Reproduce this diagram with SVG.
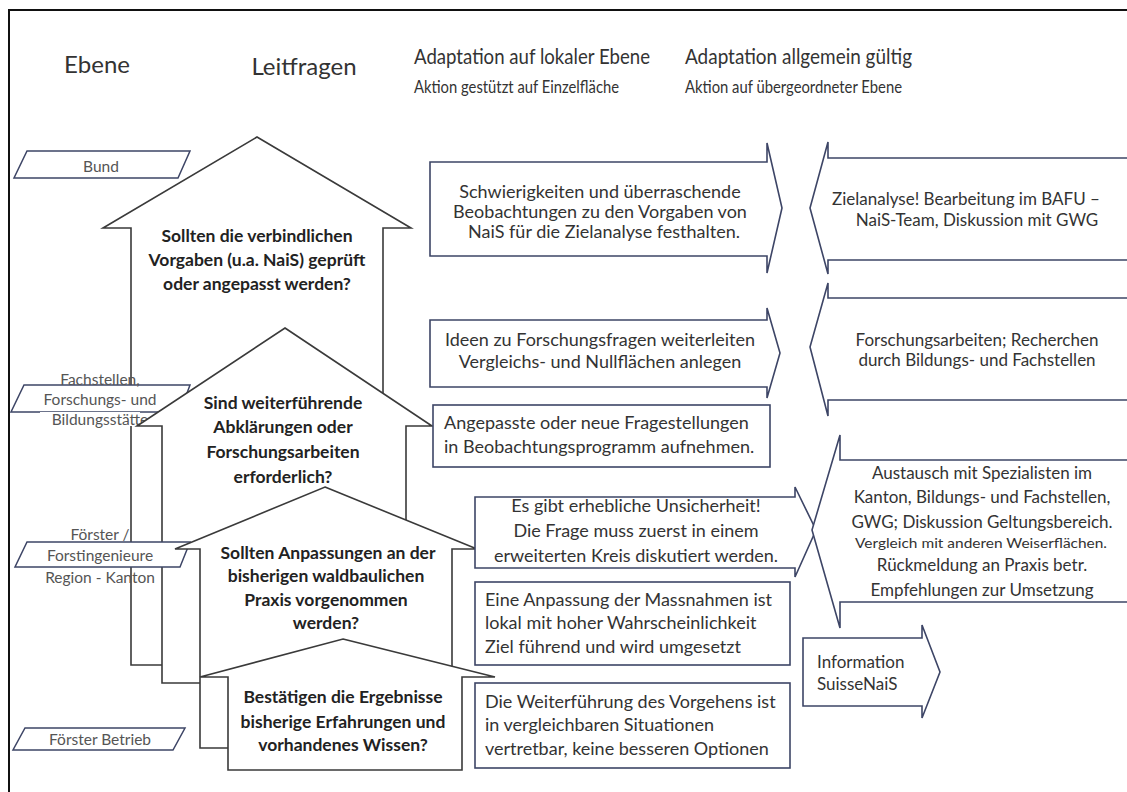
<svg xmlns="http://www.w3.org/2000/svg" width="1127" height="792" viewBox="0 0 1127 792">
<style>
.hdr{font-family:Lato,"Liberation Sans",sans-serif;fill:#333;}
.house{fill:#fff;stroke:#3a3a3a;stroke-width:1.6;stroke-linejoin:miter;}
.box{fill:#fff;stroke:#3d4566;stroke-width:1.6;}
.lbl{fill:#fff;stroke:#3d4566;stroke-width:1.5;}
.ht{font-family:Lato,"Liberation Sans",sans-serif;font-weight:bold;font-size:17.5px;fill:#222;text-anchor:middle;}
.bt{font-family:Lato,"Liberation Sans",sans-serif;font-size:18px;fill:#333;}
.rt{font-family:Lato,"Liberation Sans",sans-serif;font-size:17px;fill:#333;text-anchor:middle;}
.rs{font-family:Lato,"Liberation Sans",sans-serif;font-size:17px;fill:#333;}
.sm{font-family:Lato,"Liberation Sans",sans-serif;font-size:12.5px;fill:#333;text-anchor:middle;}
.lt{font-family:Lato,"Liberation Sans",sans-serif;font-size:15.5px;fill:#555;text-anchor:middle;}
.c{text-anchor:middle;}
</style>
<rect x="0" y="0" width="1127" height="792" fill="#fff"/>
<rect x="9" y="10" width="1130" height="790" fill="none" stroke="#111" stroke-width="2"/>

<g id="headers">
<text class="hdr" x="97" y="73" font-size="24" text-anchor="middle">Ebene</text>
<text class="hdr" x="304" y="75" font-size="24" text-anchor="middle">Leitfragen</text>
<text class="hdr" x="414" y="64" font-size="21" textLength="236" lengthAdjust="spacingAndGlyphs">Adaptation auf lokaler Ebene</text>
<text class="hdr" x="414" y="93" font-size="17" textLength="205" lengthAdjust="spacingAndGlyphs">Aktion gestützt auf Einzelfläche</text>
<text class="hdr" x="685" y="64" font-size="21" textLength="227" lengthAdjust="spacingAndGlyphs">Adaptation allgemein gültig</text>
<text class="hdr" x="685" y="93" font-size="17" textLength="217" lengthAdjust="spacingAndGlyphs">Aktion auf übergeordneter Ebene</text>
</g>

<g id="house1">
<polygon class="house" points="257,137 411,228 383,228 383,665 131,665 131,228 103,228"/>
<text class="ht" x="257" y="242">Sollten die verbindlichen</text>
<text class="ht" x="257" y="266">Vorgaben (u.a. NaiS) geprüft</text>
<text class="ht" x="257" y="290">oder angepasst werden?</text>
</g>

<g id="label-bund">
<polygon class="lbl" points="27,151 190,151 178,178 14,178"/>
<text class="lt" x="101" y="172">Bund</text>
</g>

<g id="label-fachstellen">
<polygon class="lbl" points="24,385 190,385 180,412 11,412"/>
<rect x="40" y="412" width="100" height="14" fill="#fff"/>
<text class="lt" x="100" y="385">Fachstellen,</text>
<text class="lt" x="100" y="405">Forschungs- und</text>
<text class="lt" x="100" y="425">Bildungsstätte</text>
</g>

<g id="house2">
<polygon class="house" points="285,328 432,426 406,426 406,683 162,683 162,426 137,426"/>
<text class="ht" x="283" y="409">Sind weiterführende</text>
<text class="ht" x="283" y="433">Abklärungen oder</text>
<text class="ht" x="283" y="458">Forschungsarbeiten</text>
<text class="ht" x="283" y="483">erforderlich?</text>
</g>

<g id="label-foerster-region">
<polygon class="lbl" points="27,542 190,542 180,567 15,567"/>
<text class="lt" x="100" y="540">Förster /</text>
<text class="lt" x="100" y="561">Forstingenieure</text>
<text class="lt" x="100" y="583">Region - Kanton</text>
</g>

<g id="house3">
<polygon class="house" points="325,487 477,549 452,549 452,748 200,748 200,549 175,549"/>
<text class="ht" x="328" y="559">Sollten Anpassungen  an der</text>
<text class="ht" x="326" y="582">bisherigen waldbaulichen</text>
<text class="ht" x="326" y="606">Praxis vorgenommen</text>
<text class="ht" x="326" y="629">werden?</text>
</g>

<g id="house4">
<polygon class="house" points="343,639 495,677 462,677 462,770 228,770 228,677 200,677"/>
<text class="ht" x="343" y="703">Bestätigen die Ergebnisse</text>
<text class="ht" x="343" y="728">bisherige Erfahrungen und</text>
<text class="ht" x="343" y="751">vorhandenes Wissen?</text>
</g>

<g id="label-foerster-betrieb">
<polygon class="lbl" points="25,728 185,728 173,750 13,750"/>
<text class="lt" x="100" y="745">Förster Betrieb</text>
</g>

<g id="boxA">
<polygon class="box" points="430,162 767,162 767,143 782,208 767,273 767,256 430,256"/>
<text class="bt c" x="600" y="198">Schwierigkeiten  und überraschende</text>
<text class="bt c" x="600" y="218">Beobachtungen zu den Vorgaben von</text>
<text class="bt c" x="604" y="238">NaiS für die Zielanalyse  festhalten.</text>
</g>

<g id="boxB">
<polygon class="box" points="430,320 767,320 767,308 780,353 767,398 767,387 430,387"/>
<text class="bt c" x="600" y="346">Ideen zu Forschungsfragen  weiterleiten</text>
<text class="bt c" x="600" y="368">Vergleichs- und Nullflächen anlegen</text>
</g>

<g id="boxC">
<rect class="box" x="433" y="405" width="337" height="62"/>
<text class="bt" x="444" y="429">Angepasste oder neue Fragestellungen</text>
<text class="bt" x="444" y="453">in Beobachtungsprogramm aufnehmen.</text>
</g>

<g id="boxD">
<polygon class="box" points="475,497 795,497 795,487 816,530 795,577 795,568 475,568"/>
<text class="bt c" x="636" y="512">Es gibt erhebliche Unsicherheit!</text>
<text class="bt c" x="636" y="537">Die Frage muss zuerst in einem</text>
<text class="bt c" x="636" y="562">erweiterten  Kreis diskutiert werden.</text>
</g>

<g id="boxE">
<rect class="box" x="475" y="582" width="315" height="83"/>
<text class="bt" x="485" y="606">Eine Anpassung der Massnahmen ist</text>
<text class="bt" x="485" y="629">lokal mit hoher Wahrscheinlichkeit</text>
<text class="bt" x="485" y="653">Ziel führend und wird umgesetzt</text>
</g>

<g id="boxF">
<rect class="box" x="475" y="683" width="315" height="85"/>
<text class="bt" x="485" y="708">Die Weiterführung  des Vorgehens ist</text>
<text class="bt" x="485" y="731">in vergleichbaren  Situationen</text>
<text class="bt" x="485" y="755">vertretbar, keine besseren  Optionen</text>
</g>

<g id="boxInfo">
<polygon class="box" points="803,638 922,638 922,625 940,672 922,718 922,706 803,706"/>
<text class="rs" x="817" y="668">Information</text>
<text class="rs" x="817" y="690">SuisseNaiS</text>
</g>

<g id="boxG">
<polygon class="box" points="1140,158 828,158 828,142 810,208 828,274 828,260 1140,260"/>
<text class="rt" x="966" y="205">Zielanalyse!  Bearbeitung  im BAFU –</text>
<text class="rt" x="977" y="226">NaiS-Team, Diskussion mit GWG</text>
</g>

<g id="boxH">
<polygon class="box" points="1140,298 828,298 828,283 810,347 828,416 828,400 1140,400"/>
<text class="rt" x="977" y="346">Forschungsarbeiten; Recherchen</text>
<text class="rt" x="977" y="366">durch Bildungs- und Fachstellen</text>
</g>

<g id="boxI">
<polygon class="box" points="1140,460 840,460 840,435 812,530 840,628 840,602 1140,602"/>
<text class="rt" x="982" y="479">Austausch mit Spezialisten im</text>
<text class="rt" x="982" y="503">Kanton, Bildungs- und Fachstellen,</text>
<text class="rt" x="982" y="528">GWG; Diskussion  Geltungsbereich.</text>
<text class="sm" x="981" y="548" textLength="252" lengthAdjust="spacingAndGlyphs">Vergleich mit anderen Weiserflächen.</text>
<text class="rt" x="982" y="571">Rückmeldung  an Praxis betr.</text>
<text class="rt" x="982" y="596">Empfehlungen  zur Umsetzung</text>
</g>
</svg>
